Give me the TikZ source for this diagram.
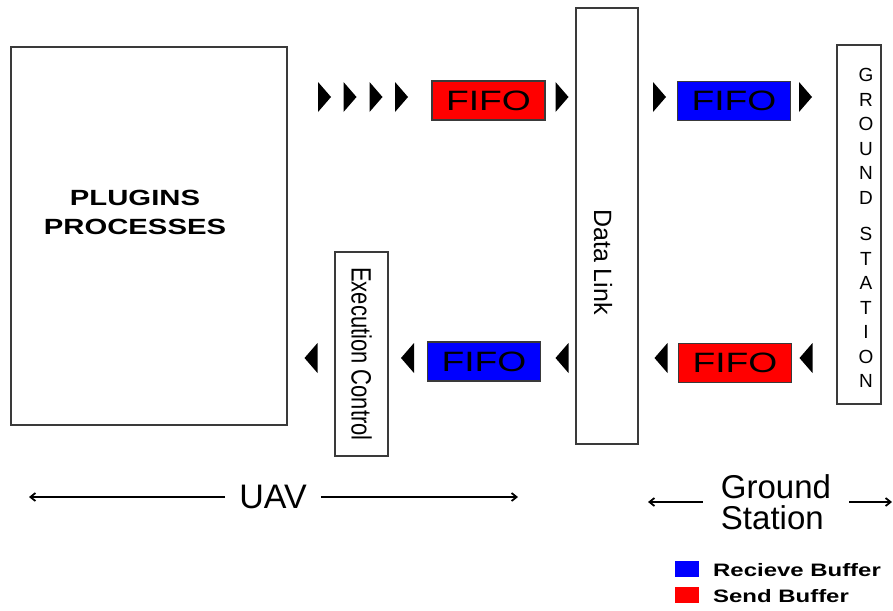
\documentclass[tikz,border=0pt]{standalone}
\usepackage{fontspec}
\setmainfont{Liberation Sans}
\usepackage{graphicx}
\usetikzlibrary{arrows.meta}
\definecolor{cInk}{HTML}{000000}
\definecolor{cLine}{HTML}{3a3a3a}
\definecolor{cRecv}{HTML}{0000ff}
\definecolor{cSend}{HTML}{ff0000}
\tikzset{
  panel/.style={draw=cLine, line width=1.3pt, fill=white, inner sep=0pt},
  buf/.style={draw=cLine, line width=1.2pt, fill=#1, minimum width=113pt, minimum height=39pt,
      inner sep=0pt, font=\fontsize{28}{30}\selectfont},
  swatch/.style={fill=#1, minimum width=24pt, minimum height=16pt, inner sep=0pt},
  spanarrow/.style={-{Straight Barb[length=5pt,width=8pt]}, line width=1.8pt},
  tip right/.pic={\fill[cInk] (-6.5,-15) -- (6.5,0) -- (-6.5,15) -- cycle;},
  tip left/.pic={\fill[cInk] (6.5,-15) -- (-6.5,0) -- (6.5,15) -- cycle;},
}
\newcommand{\wide}[1]{\scalebox{1.33}[1]{#1}}
\newcommand{\keytxt}{\bfseries\fontsize{18}{20}\selectfont}

\begin{document}
\begin{tikzpicture}[x=1pt, y=-1pt]
\useasboundingbox (0,0) rectangle (893,610);

% ===================== UAV side =====================
\node[panel, minimum width=276pt, minimum height=378pt] (plugins) at (149,236) {};
\node[font=\bfseries\fontsize{22}{29}\selectfont, align=center] (plugtxt) at (135,212)
     {\wide{PLUGINS}\\\wide{PROCESSES}};
\node[panel, rotate=-90, minimum width=204pt, minimum height=53pt,
      font=\fontsize{22}{24}\selectfont] (exec) at (361.5,354)
     {\scalebox{1}[1.27]{Execution Control}};

\node[buf=cSend] (sendU) at (488.5,100.5) {\wide{FIFO}};
\node[buf=cRecv] (recvU) at (484,361.5) {\wide{FIFO}};

% ===================== link =====================
\node[panel, minimum width=62pt, minimum height=436pt] (link) at (607,226) {};
\node[rotate=-90, font=\fontsize{25}{27}\selectfont] (linktxt) at (603,262) {Data Link};

% ===================== ground side =====================
\node[buf=cRecv] (recvG) at (734,101) {\wide{FIFO}};
\node[buf=cSend] (sendG) at (735,363) {\wide{FIFO}};
\node[panel, minimum width=44pt, minimum height=359pt] (ground) at (859,224.5) {};
\node[align=center, font=\fontsize{19}{24.5}\selectfont] (groundtxt) at (866,228)
     {G\\R\\O\\U\\N\\D\\[12pt]S\\T\\A\\T\\I\\O\\N};

% flow marks
\foreach \x in {324.5,350,376,401.5,562,659.5,805.5}
  \pic at (\x,97) {tip right};
\foreach \x in {311,407.5,562,661,806}
  \pic at (\x,358) {tip left};

% ===================== extents =====================
\node[font=\fontsize{34}{36}\selectfont, inner xsep=14pt] (uav) at (273,497) {UAV};
\coordinate (uavL) at (29,497);
\coordinate (uavR) at (518,497);
\draw[spanarrow] (uav.west) -- (uavL);
\draw[spanarrow] (uav.east) -- (uavR);

\node[align=left, font=\fontsize{33}{31}\selectfont, inner xsep=18pt] (gs) at (776,502)
     {Ground\\Station};
\coordinate (gsL) at (648,502);
\coordinate (gsR) at (892,502);
\draw[spanarrow] (gs.west) -- (gsL);
\draw[spanarrow] (gs.east) -- (gsR);

% ===================== legend =====================
\node[swatch=cRecv] (keyR) at (687,568.5) {};
\node[swatch=cSend] (keyS) at (687,595) {};
\node[anchor=west, font=\keytxt, inner sep=0pt] (keyRtxt) at (713,570) {\wide{Recieve Buffer}};
\node[anchor=west, font=\keytxt, inner sep=0pt] (keyStxt) at (713,596) {\wide{Send Buffer}};

\end{tikzpicture}
\end{document}
